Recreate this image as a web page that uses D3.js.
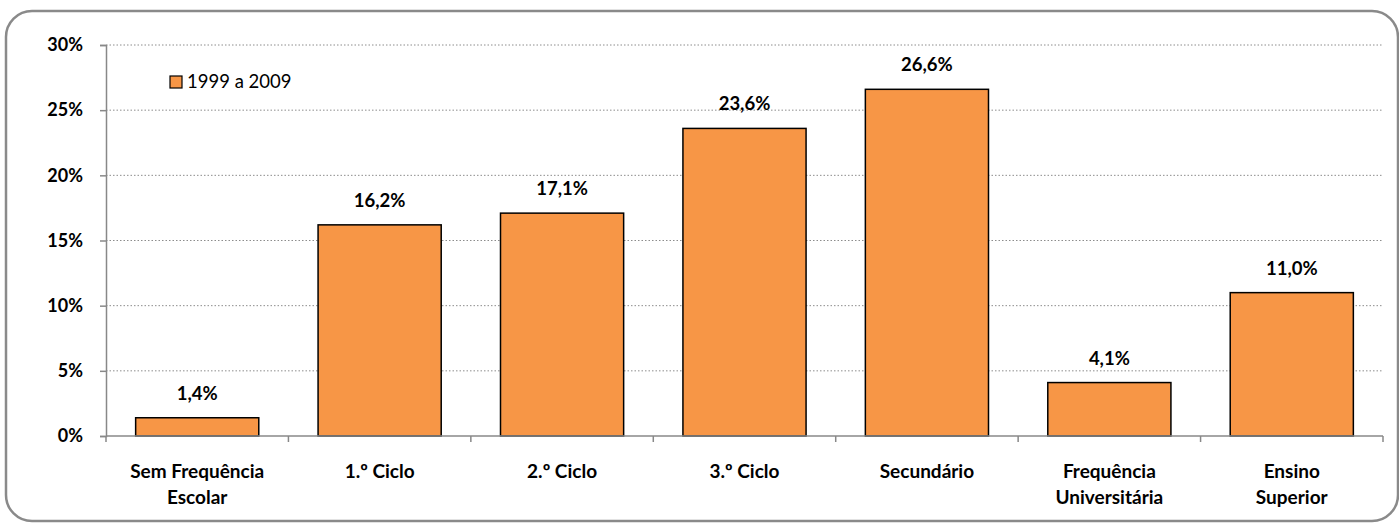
<!DOCTYPE html>
<html><head><meta charset="utf-8">
<script src="https://cdn.jsdelivr.net/npm/d3@7"></script>
<style>body{margin:0;background:#fff}svg{display:block}</style>
</head><body>
<script>
const categories = [["Sem Frequência","Escolar"],["1.º Ciclo"],["2.º Ciclo"],["3.º Ciclo"],["Secundário"],["Frequência","Universitária"],["Ensino","Superior"]];
const values = [1.4, 16.2, 17.1, 23.6, 26.6, 4.1, 11.0];
const yTicks = [0, 5, 10, 15, 20, 25, 30];
const seriesName = "1999 a 2009";

(function(){
const W = 1399, H = 523;
const font = "Lato, 'Open Sans', sans-serif";
const svg = d3.select("body").append("svg").attr("width", W).attr("height", H);

svg.append("rect").attr("x", 6).attr("y", 11).attr("width", 1392).attr("height", 510)
  .attr("rx", 26).attr("fill", "#fff").attr("stroke", "#8a8a8a").attr("stroke-width", 2.5);

const pl = 106, pr = 1383, pt = 45, pb = 436;
const x = d3.scaleBand().domain(d3.range(categories.length)).range([pl, pr]).paddingInner(0.325).paddingOuter(0.1625);
const y = d3.scaleLinear().domain([0, 30]).range([pb, pt]);

svg.append("g").selectAll("line").data(yTicks.filter(d => d > 0)).join("line")
  .attr("x1", pl).attr("x2", pr).attr("y1", d => y(d)).attr("y2", d => y(d))
  .attr("stroke", "#8c8c8c").attr("stroke-width", 1).attr("stroke-dasharray", "1.5,2");

const yAxis = d3.axisLeft(y).tickValues(yTicks).tickFormat(d => d + "%").tickSize(6).tickPadding(17);
const ya = svg.append("g").attr("transform", `translate(${pl},0)`).call(yAxis);
ya.select(".domain").attr("stroke", "#888").attr("stroke-width", 1.5);
ya.selectAll(".tick line").attr("stroke", "#888").attr("stroke-width", 1.5);
ya.selectAll("text").attr("font-family", font).attr("font-weight", "bold").attr("font-size", 18).attr("fill", "#000");

svg.append("g").selectAll("rect").data(values).join("rect")
  .attr("x", (d, i) => x(i)).attr("width", x.bandwidth())
  .attr("y", d => y(d)).attr("height", d => pb - y(d))
  .attr("fill", "#f79646").attr("stroke", "#000").attr("stroke-width", 1.5);

svg.append("g").selectAll("text").data(values).join("text")
  .attr("x", (d, i) => x(i) + x.bandwidth() / 2).attr("y", d => y(d) - 18)
  .attr("text-anchor", "middle").attr("font-family", font).attr("font-weight", "bold").attr("font-size", 18.5)
  .text(d => d.toFixed(1).replace(".", ",") + "%");

const boundaries = d3.range(categories.length + 1).map(i => pl + i * (pr - pl) / categories.length);
const xa = svg.append("g");
xa.append("line").attr("x1", pl).attr("x2", pr).attr("y1", pb).attr("y2", pb).attr("stroke", "#888").attr("stroke-width", 1.5);
xa.selectAll(".tk").data(boundaries).join("line").attr("class", "tk")
  .attr("x1", d => d).attr("x2", d => d).attr("y1", pb).attr("y2", pb + 6).attr("stroke", "#888").attr("stroke-width", 1.5);

const lab = svg.append("g").selectAll("text").data(categories).join("text")
  .attr("x", (d, i) => x(i) + x.bandwidth() / 2).attr("y", 478)
  .attr("text-anchor", "middle").attr("font-family", font).attr("font-weight", "bold").attr("font-size", 19);
lab.each(function(d, i) {
  const t = d3.select(this);
  d.forEach((line, j) => t.append("tspan").attr("x", x(i) + x.bandwidth() / 2).attr("dy", j === 0 ? 0 : 26).text(line));
});

const lg = svg.append("g").attr("transform", "translate(170,76)");
lg.append("rect").attr("x", 0).attr("y", 0).attr("width", 12).attr("height", 12).attr("fill", "#f79646").attr("stroke", "#000").attr("stroke-width", 1.2);
lg.append("text").attr("x", 17).attr("y", 12).attr("font-family", font).attr("font-size", 18.5).text(seriesName);
})();
</script>
</body></html>
